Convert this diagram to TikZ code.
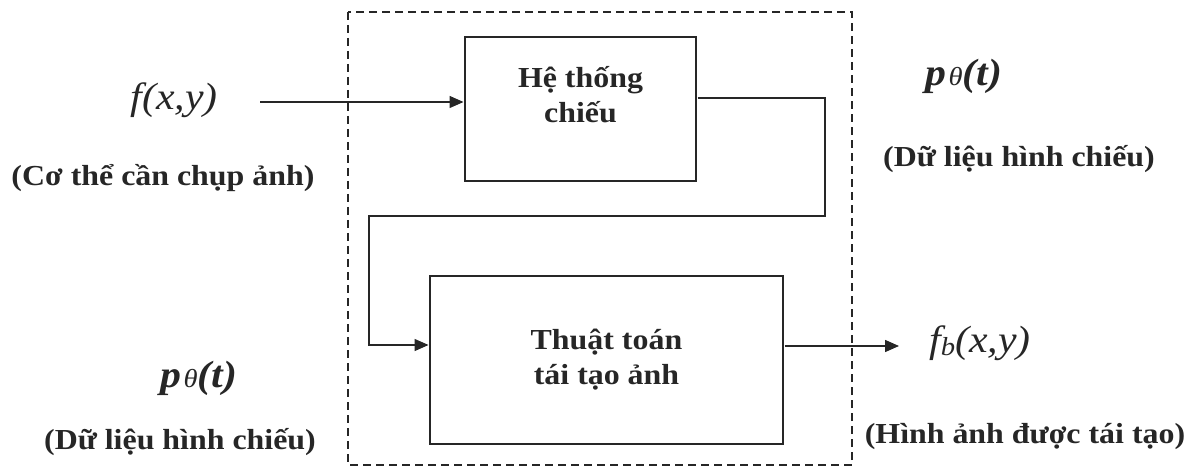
\documentclass[tikz,border=0pt]{standalone}
\usepackage{fontspec}
\setmainfont{Liberation Serif}[FakeStretch=1.1]
\usepackage{tikz}
\usetikzlibrary{arrows.meta}
\usetikzlibrary{positioning}

\begin{document}
\begin{tikzpicture}[x=1pt, y=-1pt, line width=1.4pt, black!85,
  node distance = 0mm,
     box/.style = {draw, inner sep=0pt, outer sep=1.5pt},
 boxtext/.style = {align=center, inner sep=0pt,
                   font=\fontsize{29}{35}\selectfont\bfseries},
    note/.style = {inner sep=0pt, font=\fontsize{29}{34}\selectfont\bfseries},
     sig/.style = {inner sep=0pt, font=\fontsize{38}{40}\selectfont\itshape},
    psig/.style = {sig, font=\fontsize{38}{40}\selectfont\bfseries\itshape},
     arr/.style = {-{Triangle[length=14pt,width=12pt]}}
                   ]
\useasboundingbox (0,0) rectangle (1193,470);
\draw[dash pattern=on 8pt off 5pt] (348,12) rectangle (852,465);
% the two blocks
\node[box, minimum width=231, minimum height=144] (proj) at (580.5,109) {};
\node[boxtext] (projtext) at ([yshift=14pt]proj.center) {Hệ thống\\chiếu};
\node[box, minimum width=353, minimum height=168] (algo) at (606.5,360) {};
\node[boxtext] (algotext) at (algo.center) {Thuật toán\\tái tạo ảnh};
% signals
\node[sig]  (fxy)  at (174,100) {f(x,y)};
\node[note] (body) at (163,178) {(Cơ thể cần chụp ảnh)};
\node[psig] (p1)   at (964,76) {p\kern2pt{\fontsize{26}{26}\selectfont\mdseries θ}(t)};
\node[note] (data1) at (1019,159) {(Dữ liệu hình chiếu)};
\node[psig] (p2)   at (199,378) {p\kern2pt{\fontsize{26}{26}\selectfont\mdseries θ}(t)};
\node[note] (data2) at (180,442) {(Dữ liệu hình chiếu)};
\node[sig]  (fb)   at (980,343) {f\raisebox{-3pt}{\fontsize{26}{26}\selectfont b}(x,y)};
\node[note] (recon) at (1025,437) {(Hình ảnh được tái tạo)};
% connectors
\coordinate (in)  at (260,102);
\coordinate (c0)  at (0,98);
\coordinate (c1)  at (825,216);
\coordinate (c2)  at (369,345);
\coordinate (out) at (899,346);
\draw[arr] (in) -- (proj.west |- in);
\draw[arr] (proj.east |- c0) -| (c1) -| (c2) -- (algo.west |- c2);
\draw[arr] (algo.east |- out) -- (out);
\end{tikzpicture}
\end{document}
